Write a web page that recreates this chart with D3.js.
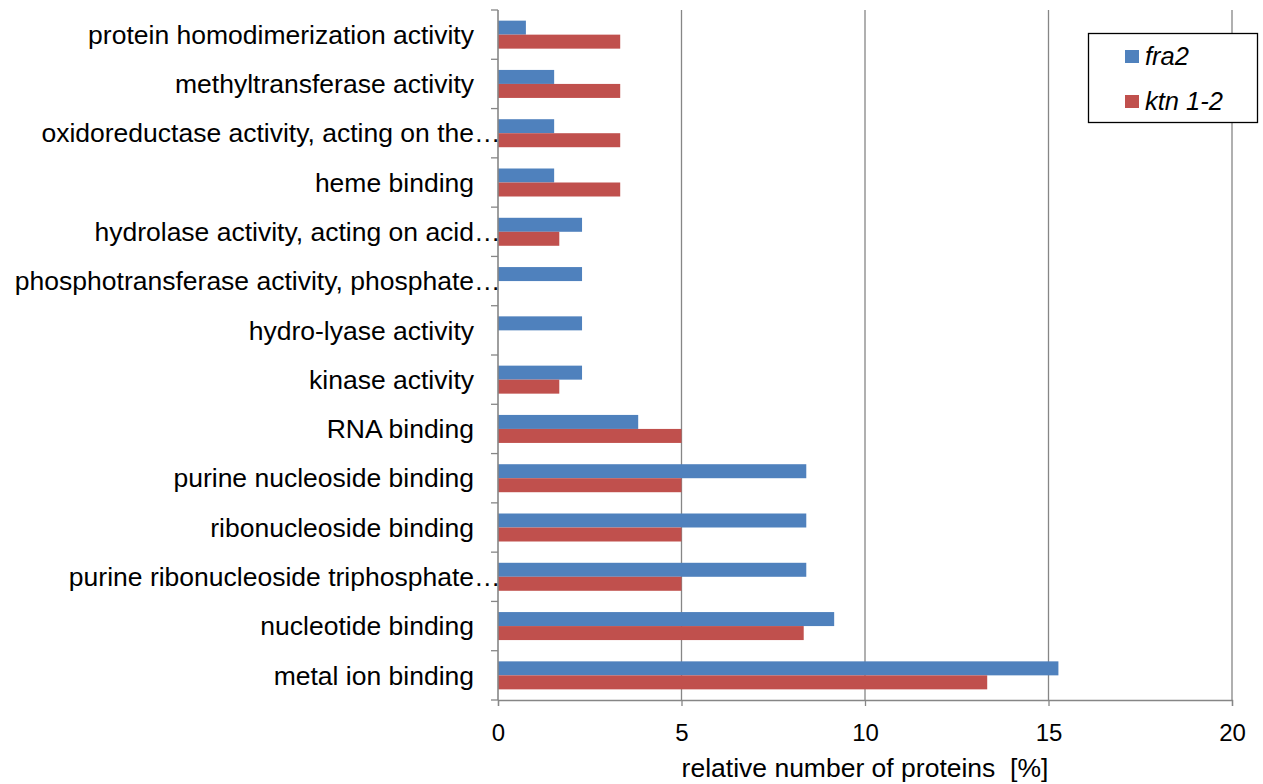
<!DOCTYPE html>
<html>
<head>
<meta charset="utf-8">
<script src="https://cdn.jsdelivr.net/npm/d3@7"></script>
<style>
  html, body { margin: 0; padding: 0; background: #fff; }
  svg { display: block; }
  text { font-family: "Liberation Sans", Arial, sans-serif; fill: #000; }
</style>
</head>
<body>
<svg id="chart" width="1263" height="784"></svg>
<script>
// GO molecular function terms, top to bottom
const categories = [
  "protein homodimerization activity",
  "methyltransferase activity",
  "oxidoreductase activity, acting on the\u2026",
  "heme binding",
  "hydrolase activity, acting on acid\u2026",
  "phosphotransferase activity, phosphate\u2026",
  "hydro-lyase activity",
  "kinase activity",
  "RNA binding",
  "purine nucleoside binding",
  "ribonucleoside binding",
  "purine ribonucleoside triphosphate\u2026",
  "nucleotide binding",
  "metal ion binding"
];

// relative number of proteins [%]
const fra2 = [0.76, 1.53, 1.53, 1.53, 2.29, 2.29, 2.29, 2.29, 3.82, 8.40, 8.40, 8.40, 9.16, 15.27];
const ktn12 = [3.33, 3.33, 3.33, 3.33, 1.67, 0, 0, 1.67, 5.00, 5.00, 5.00, 5.00, 8.33, 13.33];

const seriesNames = ["fra2", "ktn 1-2"];
const xTicks = [0, 5, 10, 15, 20];
const xTitle = "relative number of proteins  [%]";

const colors = { "fra2": "#4F81BD", "ktn 1-2": "#C0504D" };
const gridColor = "#868686";

const svg = d3.select("#chart");
const plot = { left: 498, right: 1232, top: 10, bottom: 700 };

const x = d3.scaleLinear().domain([0, 20]).range([plot.left, plot.right]);
const y = d3.scaleBand().domain(categories).range([plot.top, plot.bottom]).paddingInner(0).paddingOuter(0);
const barH = 14;

// vertical gridlines
svg.append("g").selectAll("line").data(xTicks.filter(d => d > 0)).join("line")
  .attr("x1", d => x(d)).attr("x2", d => x(d))
  .attr("y1", plot.top).attr("y2", plot.bottom)
  .attr("stroke", gridColor).attr("stroke-width", 1.3);

// bars
const rows = categories.map((c, i) => ({ c, a: fra2[i], b: ktn12[i] }));
const g = svg.append("g");
g.selectAll("rect.fra2").data(rows).join("rect")
  .attr("class", "fra2")
  .attr("x", x(0))
  .attr("y", d => y(d.c) + y.bandwidth() / 2 - barH)
  .attr("width", d => x(d.a) - x(0))
  .attr("height", barH)
  .attr("fill", colors["fra2"]);
g.selectAll("rect.ktn").data(rows).join("rect")
  .attr("class", "ktn")
  .attr("x", x(0))
  .attr("y", d => y(d.c) + y.bandwidth() / 2)
  .attr("width", d => x(d.b) - x(0))
  .attr("height", barH)
  .attr("fill", colors["ktn 1-2"]);

// x axis
const xAxis = svg.append("g").attr("transform", `translate(0,${plot.bottom})`)
  .call(d3.axisBottom(x).tickValues(xTicks).tickSize(6).tickPadding(18));
xAxis.select(".domain").attr("stroke", gridColor).attr("stroke-width", 1.3);
xAxis.selectAll(".tick line").attr("stroke", gridColor).attr("stroke-width", 1.3);
xAxis.selectAll(".tick text").style("font-size", "24px").attr("fill", "#000");

// y axis line with category boundary ticks
svg.append("line")
  .attr("x1", plot.left).attr("x2", plot.left).attr("y1", plot.top).attr("y2", plot.bottom)
  .attr("stroke", gridColor).attr("stroke-width", 1.6);
const bounds = categories.map(c => y(c)).concat([plot.bottom]);
svg.append("g").selectAll("line").data(bounds).join("line")
  .attr("x1", plot.left - 7).attr("x2", plot.left)
  .attr("y1", d => d).attr("y2", d => d)
  .attr("stroke", gridColor).attr("stroke-width", 1.3);

// category labels; truncated names keep their ellipsis past the label edge
const labelX = 474;
const lbl = svg.append("g").selectAll("g").data(categories).join("g")
  .attr("transform", d => `translate(0,${y(d) + y.bandwidth() / 2})`);
lbl.append("text")
  .attr("x", labelX)
  .attr("dy", "0.35em")
  .attr("text-anchor", "end")
  .style("font-size", "26.5px")
  .text(d => d.replace(/\u2026$/, ""));
lbl.filter(d => d.endsWith("\u2026")).append("text")
  .attr("x", labelX)
  .attr("dy", "0.35em")
  .attr("text-anchor", "start")
  .style("font-size", "26.5px")
  .text("\u2026");

// axis title
svg.append("text")
  .attr("x", (plot.left + plot.right) / 2).attr("y", 777)
  .attr("text-anchor", "middle")
  .style("font-size", "26.5px")
  .attr("xml:space", "preserve")
  .text(xTitle);

// legend
const lg = svg.append("g");
lg.append("rect")
  .attr("x", 1088.5).attr("y", 33.5).attr("width", 169).attr("height", 89)
  .attr("fill", "#fff").attr("stroke", "#000").attr("stroke-width", 1.3);
seriesNames.forEach((s, i) => {
  const cy = 56 + i * 45;
  lg.append("rect")
    .attr("x", 1125).attr("y", cy - 6).attr("width", 14).attr("height", 13)
    .attr("fill", colors[s]);
  lg.append("text")
    .attr("x", 1145).attr("y", cy).attr("dy", "0.35em")
    .style("font-size", "25.5px").style("font-style", "italic")
    .text(s);
});
</script>
</body>
</html>
